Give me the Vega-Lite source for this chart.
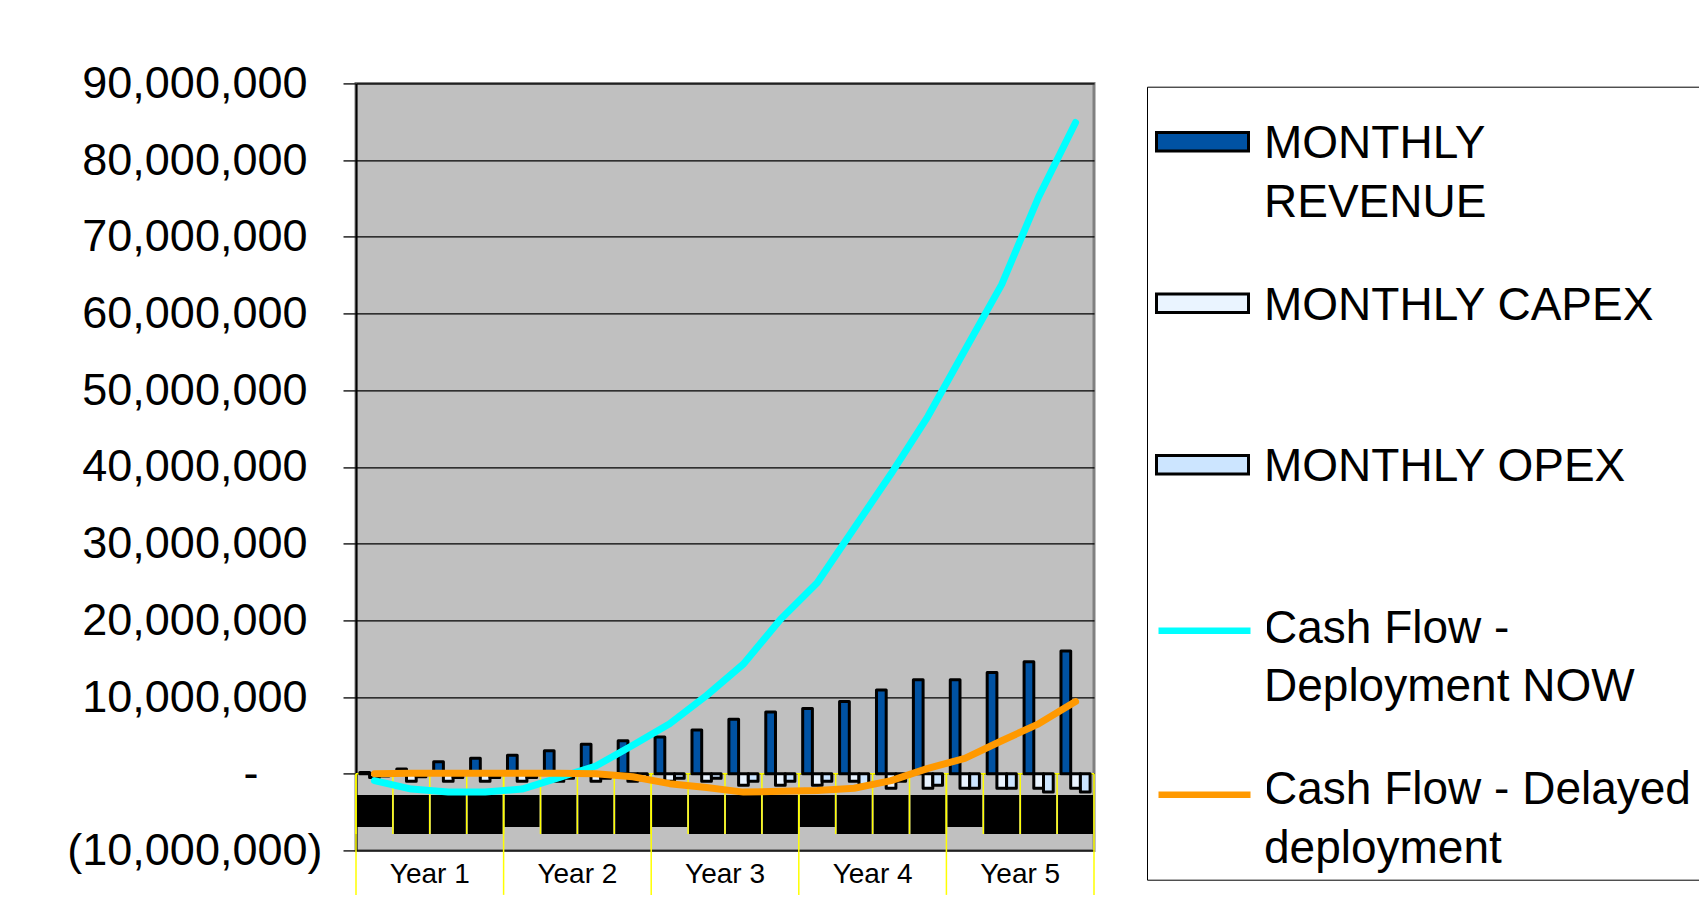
{
  "$schema": "https://vega.github.io/schema/vega-lite/v6.json",
  "width": 738,
  "height": 767,
  "autosize": {"type": "none"},
  "padding": {"left": 356, "top": 83.4, "right": 605, "bottom": 72.6},
  "background": "white",
  "config": {
    "view": {"stroke": "#808080", "strokeWidth": 3, "fill": "#C0C0C0"},
    "font": "Liberation Sans",
    "style": {"guide-label": {"lineHeight": 58.5}}
  },
  "data": {"values": [
    {"q":"Y1Q1","qtr":1,"rev":150000,"capex":-500000,"opex":-300000,"now":-900000,"delayed":0,"blk":-6950000},
    {"q":"Y1Q2","qtr":2,"rev":600000,"capex":-1000000,"opex":-400000,"now":-2000000,"delayed":50000,"blk":-7870000},
    {"q":"Y1Q3","qtr":3,"rev":1550000,"capex":-1000000,"opex":-500000,"now":-2400000,"delayed":50000,"blk":-7870000},
    {"q":"Y1Q4","qtr":4,"rev":2000000,"capex":-1000000,"opex":-500000,"now":-2400000,"delayed":50000,"blk":-7870000},
    {"q":"Y2Q1","qtr":1,"rev":2400000,"capex":-1000000,"opex":-500000,"now":-2000000,"delayed":50000,"blk":-6950000},
    {"q":"Y2Q2","qtr":2,"rev":3000000,"capex":-1000000,"opex":-600000,"now":-500000,"delayed":50000,"blk":-7870000},
    {"q":"Y2Q3","qtr":3,"rev":3850000,"capex":-1000000,"opex":-600000,"now":1000000,"delayed":0,"blk":-7870000},
    {"q":"Y2Q4","qtr":4,"rev":4300000,"capex":-1000000,"opex":-800000,"now":3700000,"delayed":-400000,"blk":-7870000},
    {"q":"Y3Q1","qtr":1,"rev":4800000,"capex":-1000000,"opex":-600000,"now":6500000,"delayed":-1300000,"blk":-6950000},
    {"q":"Y3Q2","qtr":2,"rev":5700000,"capex":-1000000,"opex":-600000,"now":10200000,"delayed":-1800000,"blk":-7870000},
    {"q":"Y3Q3","qtr":3,"rev":7100000,"capex":-1500000,"opex":-1000000,"now":14300000,"delayed":-2400000,"blk":-7870000},
    {"q":"Y3Q4","qtr":4,"rev":8050000,"capex":-1500000,"opex":-1000000,"now":20100000,"delayed":-2300000,"blk":-7870000},
    {"q":"Y4Q1","qtr":1,"rev":8500000,"capex":-1500000,"opex":-1000000,"now":24900000,"delayed":-2200000,"blk":-6950000},
    {"q":"Y4Q2","qtr":2,"rev":9400000,"capex":-1000000,"opex":-1500000,"now":32000000,"delayed":-1900000,"blk":-7870000},
    {"q":"Y4Q3","qtr":3,"rev":10900000,"capex":-1900000,"opex":-1000000,"now":39100000,"delayed":-900000,"blk":-7870000},
    {"q":"Y4Q4","qtr":4,"rev":12250000,"capex":-1900000,"opex":-1500000,"now":46600000,"delayed":700000,"blk":-7870000},
    {"q":"Y5Q1","qtr":1,"rev":12250000,"capex":-1900000,"opex":-1900000,"now":55200000,"delayed":2000000,"blk":-6950000},
    {"q":"Y5Q2","qtr":2,"rev":13200000,"capex":-1900000,"opex":-1900000,"now":63800000,"delayed":4300000,"blk":-7870000},
    {"q":"Y5Q3","qtr":3,"rev":14600000,"capex":-1900000,"opex":-2400000,"now":75200000,"delayed":6500000,"blk":-7870000},
    {"q":"Y5Q4","qtr":4,"rev":16000000,"capex":-1900000,"opex":-2400000,"now":84900000,"delayed":9400000,"blk":-7870000}
  ]},
  "layer": [
    {
      "mark": {"type": "bar", "color": "black", "width": {"band": 0.95}},
      "encoding": {
        "x": {
          "field": "q", "type": "ordinal",
          "scale": {"domain": ["Y1Q1","Y1Q2","Y1Q3","Y1Q4","Y2Q1","Y2Q2","Y2Q3","Y2Q4","Y3Q1","Y3Q2","Y3Q3","Y3Q4","Y4Q1","Y4Q2","Y4Q3","Y4Q4","Y5Q1","Y5Q2","Y5Q3","Y5Q4"], "paddingInner": 0, "paddingOuter": 0},
          "axis": {
            "title": null, "orient": "bottom", "domain": false, "ticks": false, "tickSize": 0, "grid": false,
            "labelExpr": "indexof(['Y1Q2','Y2Q2','Y3Q2','Y4Q2','Y5Q2'], datum.value) >= 0 ? 'Year ' + substring(datum.value, 1, 2) : ''",
            "labelOffset": 18.45, "labelAngle": 0, "labelPadding": 10, "labelFontSize": 28, "labelFont": "Liberation Sans",
            "labelColor": "#000", "labelOverlap": false, "labelBound": false, "labelFlush": false
          }
        },
        "y": {
          "field": "blk", "type": "quantitative",
          "scale": {"domain": [-10000000, 90000000], "nice": false, "zero": false},
          "axis": {
            "title": null, "orient": "left",
            "values": [-10000000, 0, 10000000, 20000000, 30000000, 40000000, 50000000, 60000000, 70000000, 80000000, 90000000],
            "labelExpr": "datum.value == 0 ? '-' : (datum.value < 0 ? '(' + format(-datum.value, ',') + ')' : format(datum.value, ','))",
            "labelFontSize": 45, "labelFont": "Liberation Sans", "labelColor": "#000",
            "labelPadding": {"condition": [{"test": "datum.value == 0", "value": 85}, {"test": "datum.value > 0", "value": 36}], "value": 21},
            "labelLimit": 0,
            "labelOverlap": false, "labelBound": false, "labelFlush": false,
            "tickSize": 13, "tickColor": "#222", "tickWidth": 1.5,
            "domainColor": "#000", "domainWidth": 2,
            "grid": true,
            "gridColor": "#000",
            "gridWidth": 1.2
          }
        },
        "y2": {"datum": -2770000}
      }
    },
    {
      "transform": [{"filter": "datum.q == 'Y1Q1'"}],
      "mark": {"type": "rule", "color": "#FFFF00", "strokeWidth": 1.5},
      "encoding": {"y": {"datum": 0, "type": "quantitative"}}
    },
    {
      "mark": {"type": "rule", "color": "#FFFF00", "strokeWidth": 1.5},
      "encoding": {
        "x": {"field": "q", "type": "ordinal", "bandPosition": 0, "title": null},
        "y": {"datum": 0, "type": "quantitative"},
        "y2": {"datum": -7870000}
      }
    },
    {
      "transform": [{"filter": "datum.qtr == 1"}],
      "mark": {"type": "rule", "color": "#FFFF00", "strokeWidth": 1.5},
      "encoding": {
        "x": {"field": "q", "type": "ordinal", "bandPosition": 0, "title": null},
        "y": {"datum": 0, "type": "quantitative"},
        "y2": {"datum": -15800000}
      }
    },
    {
      "transform": [{"filter": "datum.q == 'Y5Q4'"}],
      "mark": {"type": "rule", "color": "#FFFF00", "strokeWidth": 1.5},
      "encoding": {
        "x": {"field": "q", "type": "ordinal", "bandPosition": 1, "title": null},
        "y": {"datum": 0, "type": "quantitative"},
        "y2": {"datum": -15800000}
      }
    },
    {
      "transform": [{"fold": ["rev", "capex", "opex"], "as": ["series", "value"]}],
      "mark": {"type": "bar", "stroke": "black", "strokeWidth": 3, "strokeJoin": "round"},
      "encoding": {
        "x": {"field": "q", "type": "ordinal", "title": null},
        "xOffset": {"field": "series", "type": "nominal", "scale": {"domain": ["rev", "capex", "opex"], "paddingInner": 0, "paddingOuter": 0.4}},
        "y": {"field": "value", "type": "quantitative", "title": null},
        "fill": {
          "field": "series", "type": "nominal",
          "scale": {"domain": ["rev", "capex", "opex", "now", "delayed"], "range": ["#0052A3", "#EAF4FF", "#CCE5FF", "#FFFFFF", "#FFFFFF"]},
          "legend": {
            "orient": "none", "legendX": 791, "legendY": 3.3, "direction": "vertical",
            "title": "\u00a0", "titleFontSize": 16, "titlePadding": 0,
            "padding": 8, "strokeColor": "#000", "fillColor": "#FFFFFF",
            "symbolType": "M-1,-0.559H1V-0.159H-1Z", "symbolSize": 8464,
            "symbolStrokeColor": "#000", "symbolStrokeWidth": 3, "symbolOpacity": 1,
            "labelFont": "Liberation Sans", "labelFontSize": 46, "labelColor": "#000", "labelOffset": 14, "labelLimit": 0,
            "labelBaseline": "alphabetic", "rowPadding": 46.5,
            "labelExpr": "datum.value == 'rev' ? ['MONTHLY', 'REVENUE'] : datum.value == 'capex' ? ['MONTHLY CAPEX', ' '] : datum.value == 'opex' ? ['MONTHLY OPEX', ' '] : datum.value == 'now' ? ['Cash Flow -', 'Deployment NOW'] : ['Cash Flow - Delayed', 'deployment']"
          }
        }
      }
    },
    {
      "transform": [{"fold": ["now", "delayed"], "as": ["series", "value"]}],
      "mark": {"type": "line", "strokeWidth": 7, "strokeCap": "round", "strokeJoin": "round"},
      "encoding": {
        "x": {"field": "q", "type": "ordinal", "title": null},
        "y": {"field": "value", "type": "quantitative", "title": null},
        "stroke": {
          "field": "series", "type": "nominal",
          "scale": {"domain": ["now", "delayed"], "range": ["#00FFFF", "#FF9900"]},
          "legend": {
            "orient": "none", "legendX": 796, "legendY": 487.3, "direction": "vertical",
            "title": "\u00a0", "titleFontSize": 20, "titlePadding": 4,
            "padding": 3, "fillColor": "#FFFFFF",
            "symbolType": "M-1,-0.359H1", "symbolSize": 8464, "symbolStrokeWidth": 6.5, "symbolOpacity": 1,
            "labelFont": "Liberation Sans", "labelFontSize": 46, "labelOffset": 0, "labelLimit": 0,
            "labelBaseline": "alphabetic", "rowPadding": 105,
            "labelExpr": "['']"
          }
        }
      }
    }
  ]
}
